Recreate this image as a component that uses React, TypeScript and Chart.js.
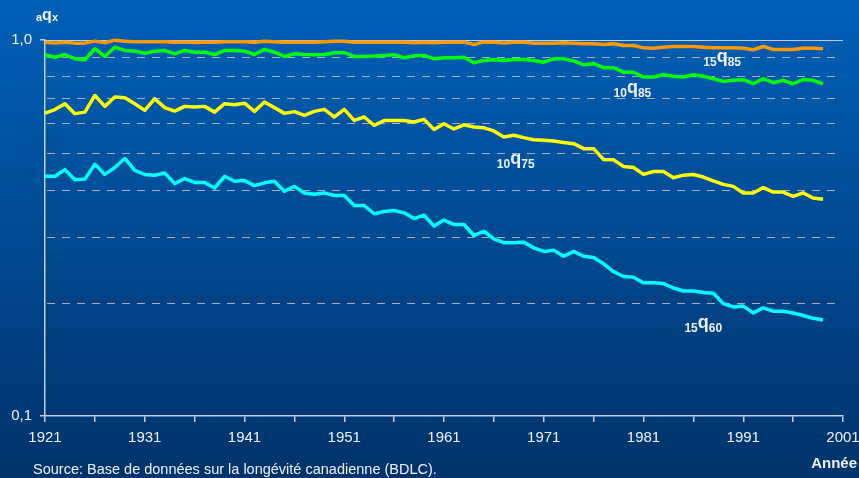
import React, { useEffect, useRef } from 'react';
import { Chart, registerables } from 'chart.js';

Chart.register(...registerables);

const FONT = '"Liberation Sans", Arial, Helvetica, sans-serif';

const YEARS = [
  1921, 1922, 1923, 1924, 1925, 1926, 1927, 1928, 1929, 1930,
  1931, 1932, 1933, 1934, 1935, 1936, 1937, 1938, 1939, 1940,
  1941, 1942, 1943, 1944, 1945, 1946, 1947, 1948, 1949, 1950,
  1951, 1952, 1953, 1954, 1955, 1956, 1957, 1958, 1959, 1960,
  1961, 1962, 1963, 1964, 1965, 1966, 1967, 1968, 1969, 1970,
  1971, 1972, 1973, 1974, 1975, 1976, 1977, 1978, 1979, 1980,
  1981, 1982, 1983, 1984, 1985, 1986, 1987, 1988, 1989, 1990,
  1991, 1992, 1993, 1994, 1995, 1996, 1997, 1998, 1999,
];

// 15q85 (orange)
const Q15_85 = [
  0.987, 0.981, 0.987, 0.981, 0.981, 0.993, 0.983, 0.999, 0.993, 0.990,
  0.990, 0.990, 0.990, 0.987, 0.987, 0.985, 0.987, 0.987, 0.990, 0.990,
  0.990, 0.987, 0.993, 0.990, 0.987, 0.987, 0.987, 0.987, 0.990, 0.993,
  0.993, 0.986, 0.986, 0.986, 0.986, 0.986, 0.986, 0.984, 0.986, 0.983,
  0.987, 0.987, 0.987, 0.973, 0.987, 0.987, 0.981, 0.987, 0.987, 0.981,
  0.981, 0.981, 0.983, 0.980, 0.977, 0.977, 0.973, 0.977, 0.967, 0.967,
  0.953, 0.951, 0.957, 0.961, 0.961, 0.961, 0.957, 0.953, 0.953, 0.953,
  0.951, 0.942, 0.961, 0.944, 0.944, 0.944, 0.951, 0.951, 0.948,
];

// 10q85 (green)
const Q10_85 = [
  0.914, 0.900, 0.915, 0.891, 0.886, 0.948, 0.904, 0.957, 0.938, 0.934,
  0.922, 0.934, 0.938, 0.919, 0.938, 0.928, 0.928, 0.915, 0.938, 0.938,
  0.934, 0.915, 0.944, 0.928, 0.904, 0.919, 0.915, 0.914, 0.915, 0.925,
  0.925, 0.904, 0.904, 0.906, 0.910, 0.914, 0.897, 0.908, 0.910, 0.891,
  0.897, 0.897, 0.900, 0.870, 0.882, 0.888, 0.882, 0.888, 0.888, 0.882,
  0.873, 0.891, 0.891, 0.880, 0.859, 0.865, 0.844, 0.844, 0.821, 0.821,
  0.797, 0.797, 0.808, 0.801, 0.797, 0.808, 0.801, 0.789, 0.776, 0.781,
  0.784, 0.765, 0.789, 0.770, 0.781, 0.765, 0.785, 0.781, 0.765,
];

// 10q75 (yellow)
const Q10_75 = [
  0.639, 0.653, 0.677, 0.637, 0.643, 0.712, 0.666, 0.705, 0.702, 0.677,
  0.650, 0.698, 0.661, 0.647, 0.666, 0.663, 0.666, 0.643, 0.677, 0.673,
  0.679, 0.646, 0.684, 0.661, 0.638, 0.645, 0.630, 0.646, 0.654, 0.624,
  0.654, 0.611, 0.624, 0.593, 0.611, 0.611, 0.611, 0.605, 0.615, 0.578,
  0.599, 0.580, 0.595, 0.587, 0.584, 0.573, 0.552, 0.558, 0.550, 0.543,
  0.541, 0.539, 0.534, 0.530, 0.514, 0.514, 0.481, 0.480, 0.461, 0.458,
  0.439, 0.447, 0.447, 0.430, 0.437, 0.439, 0.432, 0.422, 0.413, 0.408,
  0.392, 0.392, 0.405, 0.394, 0.394, 0.384, 0.392, 0.380, 0.377,
];

// 15q60 (cyan)
const Q15_60 = [
  0.434, 0.434, 0.452, 0.425, 0.427, 0.467, 0.439, 0.458, 0.484, 0.450,
  0.439, 0.437, 0.443, 0.415, 0.428, 0.418, 0.418, 0.404, 0.434, 0.421,
  0.423, 0.410, 0.417, 0.421, 0.396, 0.408, 0.392, 0.389, 0.392, 0.386,
  0.386, 0.363, 0.363, 0.345, 0.350, 0.352, 0.347, 0.335, 0.342, 0.320,
  0.332, 0.323, 0.323, 0.302, 0.310, 0.296, 0.289, 0.289, 0.290, 0.280,
  0.274, 0.276, 0.266, 0.274, 0.266, 0.264, 0.254, 0.242, 0.235, 0.234,
  0.226, 0.226, 0.225, 0.219, 0.215, 0.215, 0.213, 0.212, 0.199, 0.195,
  0.196, 0.188, 0.194, 0.190, 0.190, 0.188, 0.185, 0.182, 0.180,
];

const X_TICKS = [1921, 1926, 1931, 1936, 1941, 1946, 1951, 1956, 1961, 1966, 1971, 1976, 1981, 1986, 1991, 1996, 2001];
const X_LABELED = [1921, 1931, 1941, 1951, 1961, 1971, 1981, 1991, 2001];
const Y_TICKS = [0.1, 1];
const Y_TICK_LABELS = ['0,1', '1,0'];
const GRID_VALUES = [0.2, 0.3, 0.4, 0.5, 0.6, 0.7, 0.8, 0.9];

// Series annotations: prefix, suffix, anchor (year, value) = left/baseline of the text
const LABEL_PRE = ['15', '10', '10', '15'];
const LABEL_POST = ['85', '85', '75', '60'];
const LABEL_YEAR = [1987.0, 1978.0, 1966.3, 1985.1];
const LABEL_VALUE = [0.851, 0.706, 0.456, 0.167];

const SOURCE_TEXT = 'Source: Base de données sur la longévité canadienne (BDLC).';
const X_TITLE = 'Année';

const TEXT_COLOR = '#eef2f8';
const AXIS_COLOR = '#c3cde0';

function drawQLabel(ctx: CanvasRenderingContext2D, x: number, base: number, pre: string, post: string, small: number, big: number, lift: number) {
  ctx.font = `bold ${small}px ${FONT}`;
  ctx.fillText(pre, x, base);
  x += ctx.measureText(pre).width;
  ctx.font = `bold ${big}px ${FONT}`;
  ctx.fillText('q', x, base - lift);
  x += ctx.measureText('q').width;
  ctx.font = `bold ${small}px ${FONT}`;
  ctx.fillText(post, x, base);
}

const bgPlugin = {
  id: 'bgGradient',
  beforeDraw(chart: any) {
    const { ctx, width, height } = chart;
    const g = ctx.createLinearGradient(0, 0, 0, height);
    g.addColorStop(0, '#0060b8');
    g.addColorStop(1, '#00336a');
    ctx.save();
    ctx.fillStyle = g;
    ctx.fillRect(0, 0, width, height);
    ctx.restore();
  },
};

const gridPlugin = {
  id: 'dashGrid',
  beforeDatasetsDraw(chart: any) {
    const { ctx, chartArea, scales } = chart;
    const y = scales.y;
    ctx.save();
    ctx.lineWidth = 1;
    ctx.strokeStyle = 'rgba(175,180,190,0.95)';
    ctx.setLineDash([8, 7]);
    GRID_VALUES.forEach((v) => {
      const py = Math.round(y.getPixelForValue(v)) + 0.5;
      ctx.beginPath();
      ctx.moveTo(chartArea.left + 2, py);
      ctx.lineTo(chartArea.right - 6, py);
      ctx.stroke();
    });
    ctx.setLineDash([]);
    ctx.strokeStyle = AXIS_COLOR;
    const top = Math.round(y.getPixelForValue(1)) + 0.5;
    ctx.beginPath();
    ctx.moveTo(chartArea.left, top);
    ctx.lineTo(chartArea.right, top);
    ctx.stroke();
    ctx.restore();
  },
};

const textPlugin = {
  id: 'texts',
  afterDraw(chart: any) {
    const { ctx, scales, width } = chart;
    const xs = scales.x;
    const ys = scales.y;
    ctx.save();
    ctx.fillStyle = TEXT_COLOR;
    ctx.textAlign = 'left';
    ctx.textBaseline = 'alphabetic';
    for (let i = 0; i < LABEL_PRE.length; i++) {
      const px = xs.getPixelForValue(LABEL_YEAR[i]);
      const py = ys.getPixelForValue(LABEL_VALUE[i]);
      drawQLabel(ctx, px, py, LABEL_PRE[i], LABEL_POST[i], 12, 18, 4);
    }
    // y-axis title  a q x
    ctx.font = `bold 11px ${FONT}`;
    ctx.fillText('a', 36, 21);
    ctx.font = `bold 16px ${FONT}`;
    ctx.fillText('q', 42, 20);
    ctx.font = `bold 11px ${FONT}`;
    ctx.fillText('x', 52, 21);
    // source
    ctx.font = `14.5px ${FONT}`;
    ctx.fillText(SOURCE_TEXT, 33, 474);
    // x title
    ctx.font = `bold 15px ${FONT}`;
    ctx.textAlign = 'right';
    ctx.fillText(X_TITLE, width - 2, 468);
    ctx.restore();
  },
};

export default function App() {
  const ref = useRef<HTMLCanvasElement>(null);

  useEffect(() => {
    if (!ref.current) return;
    const mk = (data: number[], color: string) => ({
      data: YEARS.map((yr, i) => ({ x: yr, y: data[i] })),
      borderColor: color,
      backgroundColor: color,
      borderWidth: 3.5,
      pointRadius: 0,
      tension: 0,
      fill: false,
      borderJoinStyle: 'round' as const,
      clip: false as any,
    });
    const chart = new Chart(ref.current, {
      type: 'line',
      data: {
        datasets: [
          mk(Q15_60, '#00ffff'),
          mk(Q10_75, '#ffff00'),
          mk(Q10_85, '#00ff00'),
          mk(Q15_85, '#ff9900'),
        ],
      },
      options: {
        animation: false,
        responsive: false,
        devicePixelRatio: 1,
        layout: { padding: { top: 40, right: 16, left: 0, bottom: 0 } },
        plugins: { legend: { display: false }, tooltip: { enabled: false } },
        events: [],
        scales: {
          x: {
            type: 'linear',
            min: 1921,
            max: 2001,
            afterBuildTicks: (s: any) => {
              s.ticks = X_TICKS.map((v) => ({ value: v }));
            },
            afterFit: (s: any) => {
              s.height = 62;
              s.paddingLeft = 0;
              s.paddingRight = 0;
            },
            ticks: {
              autoSkip: false,
              maxRotation: 0,
              color: TEXT_COLOR,
              font: { size: 15, family: FONT },
              padding: 7,
              callback: (v: any) => (X_LABELED.includes(Number(v)) ? String(v) : ''),
            },
            grid: { drawOnChartArea: false, drawTicks: true, tickLength: 6, color: AXIS_COLOR, lineWidth: 1.5 },
            border: { color: AXIS_COLOR, width: 1.5 },
          },
          y: {
            type: 'logarithmic',
            min: 0.1,
            max: 1,
            afterBuildTicks: (s: any) => {
              s.ticks = Y_TICKS.map((v) => ({ value: v }));
            },
            afterFit: (s: any) => {
              s.width = 45;
              s.paddingTop = 0;
              s.paddingBottom = 0;
            },
            ticks: {
              color: TEXT_COLOR,
              font: { size: 15, family: FONT },
              padding: 8,
              callback: (v: any) => {
                const i = Y_TICKS.indexOf(Number(v));
                return i >= 0 ? Y_TICK_LABELS[i] : '';
              },
            },
            grid: { drawOnChartArea: false, drawTicks: true, tickLength: 5, color: AXIS_COLOR, lineWidth: 1.5 },
            border: { color: AXIS_COLOR, width: 1.5 },
          },
        },
      },
      plugins: [bgPlugin, gridPlugin, textPlugin],
    } as any);
    return () => chart.destroy();
  }, []);

  return (
    <div style={{ position: 'absolute', left: 0, top: 0, width: 859, height: 478 }}>
      <canvas ref={ref} width={859} height={478} style={{ display: 'block', width: 859, height: 478 }} />
    </div>
  );
}
